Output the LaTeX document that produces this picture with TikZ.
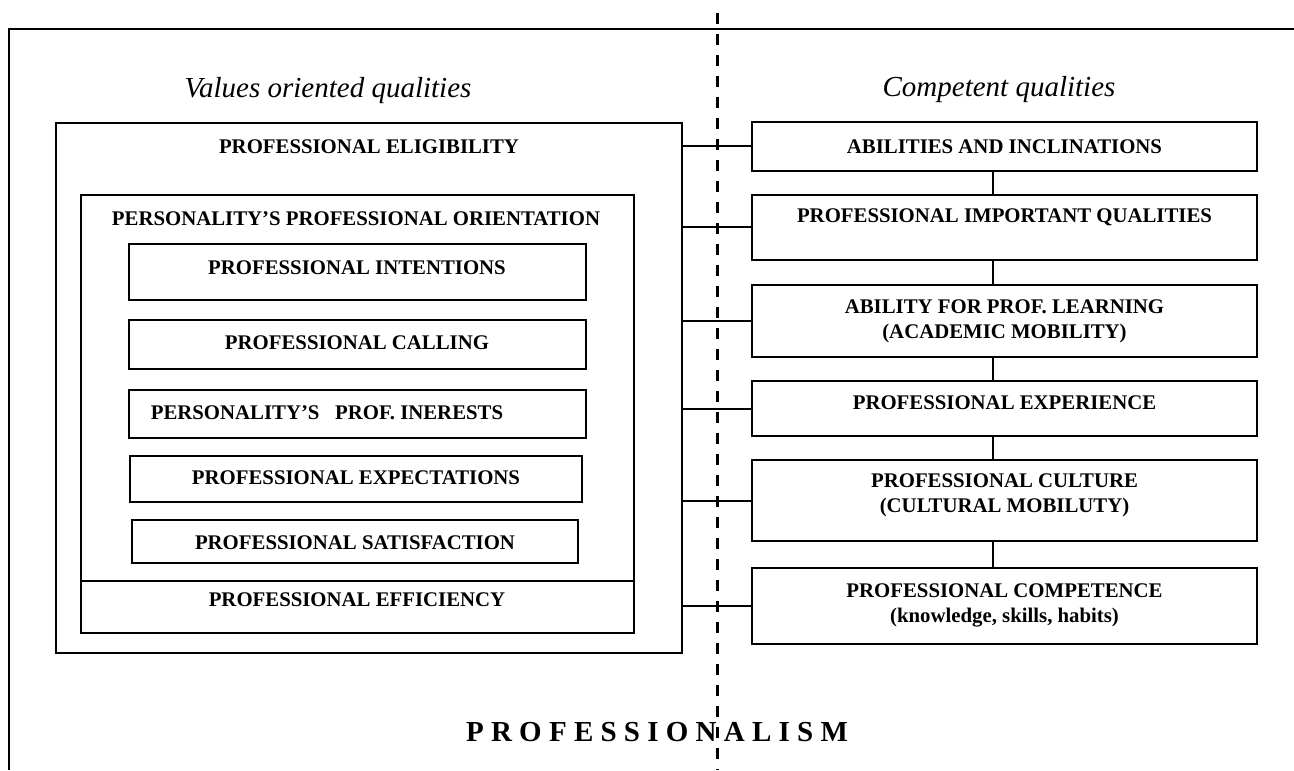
\documentclass[tikz,border=0pt]{standalone}
\usepackage{fontspec}
\setmainfont{Liberation Serif}
\usepackage{tikz}

\begin{document}
\begin{tikzpicture}[x=0.5pt,y=-0.5pt]
\tikzstyle{box}=[draw,line width=1pt,inner sep=0pt]
\tikzstyle{caps}=[font=\fontsize{10.4}{12.5}\selectfont\bfseries,align=center,inner sep=0pt]
\tikzstyle{head}=[font=\fontsize{14.5}{17}\selectfont\itshape,anchor=base,inner sep=0pt]
\tikzstyle{link}=[line width=1pt]
\fill[white] (0,0) rectangle (1294,770);
\useasboundingbox (0,0) rectangle (1294,770);
\draw[line width=1.1pt] (1294,29) -- (9,29) -- (9,770);
\node[head] (valq) at (328,98) {Values oriented qualities};
\node[head] (compq) at (999,97) {Competent qualities};
\node[box,minimum width=313pt,minimum height=265pt] (elig) at (369,388) {};
\node[box,minimum width=276.5pt,minimum height=193pt] (orient) at (357.5,388) {};
\node[box,minimum width=276.5pt,minimum height=26pt] (effic) at (357.5,607) {};
\node[caps] (elig-t) at (369,147) {PROFESSIONAL ELIGIBILITY};
\node[caps] (orient-t) at (356,219) {PERSONALITY’S PROFESSIONAL ORIENTATION};
\node[caps] (effic-t) at (357,600) {PROFESSIONAL EFFICIENCY};
\foreach \name/\xc/\yc/\w/\h/\xt/\yt/\txt in {
	intent/357.5/272/228.5pt/28pt/357/268/{PROFESSIONAL INTENTIONS},
	call/357.5/344.5/228.5pt/24.5pt/357/343/{PROFESSIONAL CALLING},
	inter/357.5/414/228.5pt/24pt/327/413/{PERSONALITY’S\ \ \ PROF. INERESTS},
	expect/356/479/226pt/23pt/356/478/{PROFESSIONAL EXPECTATIONS},
	satisf/355/541.5/223pt/21.5pt/355/543/{PROFESSIONAL SATISFACTION}}
{
	\node[box,minimum width=\w,minimum height=\h] (\name) at (\xc,\yc) {};
	\node[caps] (\name-t) at (\xt,\yt) {\txt};
}
\foreach \name/\yc/\h/\yt/\txt in {
	abil/146.5/24.5pt/147/{ABILITIES AND INCLINATIONS},
	impq/227.5/32.5pt/217/{PROFESSIONAL IMPORTANT QUALITIES},
	learn/321/36pt/321.5/{ABILITY FOR PROF. LEARNING\\(ACADEMIC MOBILITY)},
	exper/408.5/27.5pt/403/{PROFESSIONAL EXPERIENCE},
	cult/500.5/40.5pt/495/{PROFESSIONAL CULTURE\\(CULTURAL MOBILUTY)},
	compet/606/38pt/605/{PROFESSIONAL COMPETENCE\\(knowledge, skills, habits)}}
{
	\node[box,minimum width=252.5pt,minimum height=\h] (\name) at (1004.5,\yc) {};
	\node[caps] (\name-t) at (1004.5,\yt) {\txt};
}
\coordinate (vx) at (993,0);
\foreach \name in {abil,impq,learn,exper,cult,compet}
	\draw[link] (\name.west) -- (\name.west -| elig.east);
\foreach \a/\b in {abil/impq,impq/learn,learn/exper,exper/cult,cult/compet}
	\draw[link] (\a.south -| vx) -- (\b.north -| vx);
\node[font=\fontsize{14.5}{17}\selectfont\bfseries,inner sep=0pt] (prof) at (657,732) {P R O F E S S I O N A L I S M};
\draw[line width=1.5pt,dash pattern=on 5.5pt off 5pt] (717,13) -- (717,770);
\end{tikzpicture}
\end{document}
